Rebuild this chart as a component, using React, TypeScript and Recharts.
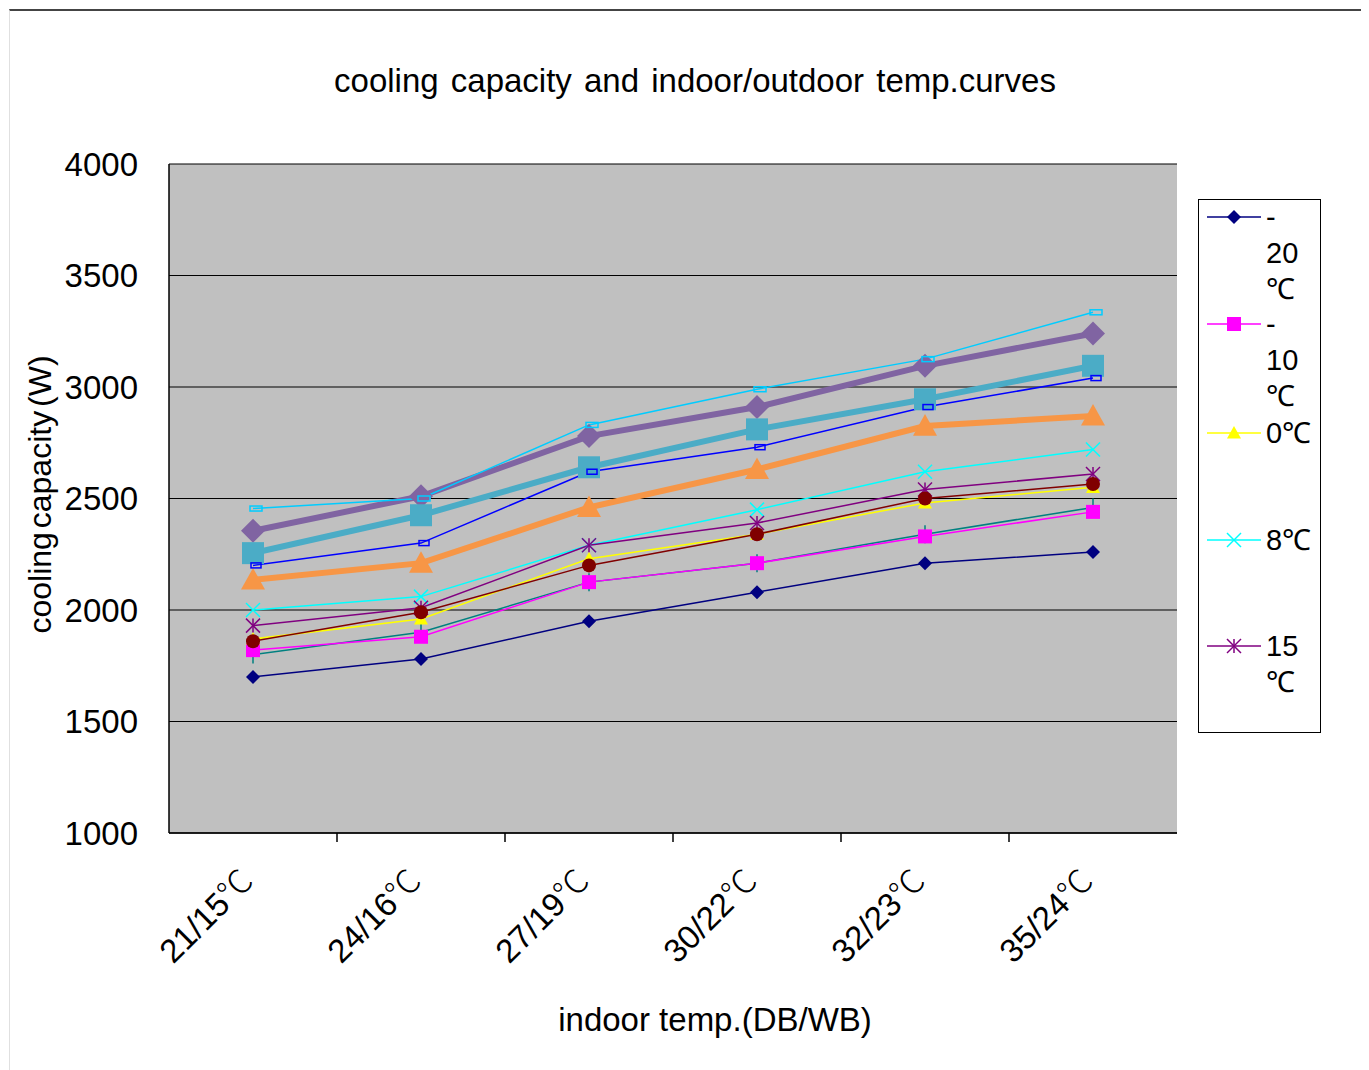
import { CartesianGrid, Label, Legend, Line, LineChart, XAxis, YAxis } from 'recharts'

const categories = ['21/15℃', '24/16℃', '27/19℃', '30/22℃', '32/23℃', '35/24℃']

const minus20 = [1700, 1780, 1950, 2080, 2210, 2260]
const minus10 = [1820, 1880, 2125, 2210, 2330, 2440]
const zero = [1870, 1960, 2230, 2340, 2480, 2550]
const plus8 = [2000, 2060, 2290, 2450, 2620, 2720]
const plus15 = [1930, 2010, 2290, 2390, 2540, 2610]
const darkRedSeries = [1860, 1990, 2200, 2340, 2500, 2565]
const tealSeries = [1800, 1900, 2125, 2210, 2340, 2460]
const blueSeries = [2200, 2300, 2620, 2730, 2910, 3040]
const skySeries = [2455, 2500, 2830, 2990, 3125, 3335]
const orangeSeries = [2135, 2210, 2460, 2630, 2825, 2870]
const steelSeries = [2255, 2425, 2640, 2810, 2945, 3095]
const violetSeries = [2355, 2510, 2780, 2910, 3095, 3240]

const yTicks = [1000, 1500, 2000, 2500, 3000, 3500, 4000]

const data = categories.map((name, i) => ({
  name,
  m20: minus20[i],
  m10: minus10[i],
  t0: zero[i],
  t8: plus8[i],
  t15: plus15[i],
  darkRed: darkRedSeries[i],
  teal: tealSeries[i],
  blue: blueSeries[i],
  sky: skySeries[i],
  orange: orangeSeries[i],
  steel: steelSeries[i],
  violet: violetSeries[i],
}))

type MarkerKind = 'diamond' | 'square' | 'triangle' | 'x' | 'star' | 'circle' | 'plus' | 'dash'

interface SeriesDef {
  key: string
  color: string
  width: number
  marker: MarkerKind
  size: number
  lines?: string[]
}

// drawn in this order: thick ones below, thin ones above
const series: SeriesDef[] = [
  { key: 'violet', color: '#8064a2', width: 6, marker: 'diamond', size: 12 },
  { key: 'steel', color: '#4bacc6', width: 6, marker: 'square', size: 11 },
  { key: 'orange', color: '#f79646', width: 6, marker: 'triangle', size: 12 },
  { key: 'teal', color: '#008080', width: 1.5, marker: 'plus', size: 7 },
  { key: 'm20', color: '#000080', width: 1.5, marker: 'diamond', size: 7, lines: ['-', '20', '℃'] },
  { key: 'm10', color: '#ff00ff', width: 1.5, marker: 'square', size: 7, lines: ['-', '10', '℃'] },
  { key: 't0', color: '#ffff00', width: 1.5, marker: 'triangle', size: 7, lines: ['0℃'] },
  { key: 't8', color: '#00ffff', width: 1.5, marker: 'x', size: 7, lines: ['8℃'] },
  { key: 't15', color: '#800080', width: 1.5, marker: 'star', size: 7, lines: ['15', '℃'] },
  { key: 'darkRed', color: '#800000', width: 1.5, marker: 'circle', size: 7 },
  { key: 'blue', color: '#0000ff', width: 1.5, marker: 'dash', size: 5 },
  { key: 'sky', color: '#00ccff', width: 1.5, marker: 'dash', size: 6 },
]

const legendOrder = ['m20', 'm10', 't0', 't8', 't15']

const FONT = '"Liberation Sans", Arial, sans-serif'
const CJK = '"Noto Sans CJK SC", sans-serif'

// split off the degree sign so it can use a CJK face
function splitDeg(t: string) {
  const i = t.indexOf('℃')
  return i < 0 ? [t, ''] : [t.slice(0, i), '℃']
}

function Marker({ kind, cx, cy, color, size }: { kind: MarkerKind; cx: number; cy: number; color: string; size: number }) {
  const s = size
  switch (kind) {
    case 'diamond':
      return <polygon points={`${cx},${cy - s} ${cx + s},${cy} ${cx},${cy + s} ${cx - s},${cy}`} fill={color} />
    case 'square':
      return <rect x={cx - s} y={cy - s} width={s * 2} height={s * 2} fill={color} />
    case 'triangle':
      return <polygon points={`${cx},${cy - s} ${cx + s},${cy + s * 0.8} ${cx - s},${cy + s * 0.8}`} fill={color} />
    case 'circle':
      return <circle cx={cx} cy={cy} r={s} fill={color} />
    case 'x':
      return (
        <g stroke={color} strokeWidth={1.5}>
          <line x1={cx - s} y1={cy - s} x2={cx + s} y2={cy + s} />
          <line x1={cx - s} y1={cy + s} x2={cx + s} y2={cy - s} />
        </g>
      )
    case 'star':
      return (
        <g stroke={color} strokeWidth={1.5}>
          <line x1={cx - s} y1={cy - s} x2={cx + s} y2={cy + s} />
          <line x1={cx - s} y1={cy + s} x2={cx + s} y2={cy - s} />
          <line x1={cx} y1={cy - s} x2={cx} y2={cy + s} />
        </g>
      )
    case 'plus':
      return (
        <g stroke={color} strokeWidth={1.5}>
          <line x1={cx} y1={cy - s - 2} x2={cx} y2={cy + s + 2} />
          <line x1={cx - s} y1={cy} x2={cx + s} y2={cy} />
        </g>
      )
    case 'dash':
      return <rect x={cx - s + 3} y={cy - 2.5} width={s * 2} height={5} fill="none" stroke={color} strokeWidth={1.5} />
  }
}

function XTick(props: any) {
  const { x, y, payload, index } = props
  const [num, deg] = splitDeg(payload.value)
  return (
    <g>
      {index < categories.length - 1 && <line x1={x + 84} y1={y} x2={x + 84} y2={y + 9} stroke="#000" strokeWidth={1.5} />}
      <g transform={`translate(${x + 2},${y + 50})`}>
        <text transform="rotate(-45)" textAnchor="end" fontSize={33} fontFamily={FONT} fill="#000">
          {num}
          <tspan fontFamily={CJK} fontWeight={300}>{deg}</tspan>
        </text>
      </g>
    </g>
  )
}

function LegendBox() {
  const entries = legendOrder.map((k) => series.find((s) => s.key === k)!)
  const rowTops = [17, 124, 233, 340, 446]
  const lh = 36
  return (
    <div style={{ position: 'relative', width: 123, height: 534, border: '1px solid #000', background: '#fff', boxSizing: 'border-box' }}>
      {entries.map((s, i) => (
        <div key={s.key} style={{ position: 'absolute', left: 0, top: rowTops[i] - 18 }}>
          <svg width={66} height={36} style={{ position: 'absolute', left: 8, top: 0 }}>
            <line x1={0} y1={18} x2={54} y2={18} stroke={s.color} strokeWidth={1.5} />
            <Marker kind={s.marker} cx={27} cy={18} color={s.color} size={s.size} />
          </svg>
          <div style={{ position: 'absolute', left: 67, top: 0, fontFamily: FONT, fontSize: 29, color: '#000', whiteSpace: 'nowrap' }}>
            {s.lines!.map((t, j) => (
              <div key={j} style={{ height: lh, lineHeight: `${lh}px` }}>
                {t}
              </div>
            ))}
          </div>
        </div>
      ))}
    </div>
  )
}

export default function App() {
  return (
    <div
      style={{
        position: 'relative',
        marginTop: 1,
        marginLeft: 1,
        width: 1355,
        height: 1070,
        borderTop: '2px solid #444',
        borderRight: '2px solid #333',
        borderLeft: '1px solid #e0e0e0',
        background: '#fff',
      }}
    >
      <div
        style={{
          position: 'absolute',
          left: 0,
          width: 1370,
          top: 53,
          textAlign: 'center',
          fontFamily: FONT,
          fontSize: 33,
          lineHeight: '33px',
          color: '#000',
          wordSpacing: 3,
        }}
      >
        cooling capacity and indoor/outdoor temp.curves
      </div>
      <LineChart width={1354} height={1060} data={data} margin={{ top: 153, right: 187, left: 79, bottom: 88 }}>
        <CartesianGrid vertical={false} stroke="#000" strokeWidth={1.2} fill="#c0c0c0" fillOpacity={1} />
        <XAxis
          dataKey="name"
          height={150}
          padding={{ left: 84, right: 84 }}
          axisLine={{ stroke: '#000', strokeWidth: 1.5 }}
          tickLine={false}
          tickSize={0}
          tickMargin={0}
          interval={0}
          tick={<XTick />}
        >
          <Label
            content={(p: any) => {
              const vb = p.viewBox
              return (
                <text x={vb.x + vb.width / 2 + 42} y={vb.y + vb.height + 48} textAnchor="middle" fontSize={33} fontFamily={FONT} fill="#000">
                  indoor temp.(DB/WB)
                </text>
              )
            }}
          />
        </XAxis>
        <YAxis
          width={80}
          domain={[1000, 4000]}
          ticks={yTicks}
          allowDataOverflow
          axisLine={{ stroke: '#000', strokeWidth: 1.5 }}
          tickLine={false}
          tickSize={0}
          tickMargin={31}
          tick={{ fontSize: 33, fontFamily: FONT, fill: '#000' }}
        >
          <Label
            content={(p: any) => {
              const vb = p.viewBox
              const cx = vb.x - 46
              const cy = vb.y + vb.height / 2 - 4
              return (
                <text x={cx} y={cy} transform={`rotate(-90 ${cx} ${cy})`} textAnchor="middle" dominantBaseline="middle" fontSize={32} fontFamily={FONT} fill="#000" wordSpacing={-5}>
                  cooling capacity (W)
                </text>
              )
            }}
          />
        </YAxis>
        <Legend
          layout="horizontal"
          verticalAlign="middle"
          align="center"
          wrapperStyle={{ left: 1188, top: 188, width: 123, height: 534 }}
          content={() => <LegendBox />}
        />
        {series.map((s) => (
          <Line
            key={s.key}
            dataKey={s.key}
            stroke={s.color}
            strokeWidth={s.width}
            isAnimationActive={false}
            legendType={s.lines ? 'line' : 'none'}
            activeDot={false}
            dot={(p: any) => <Marker key={`${s.key}-${p.index}`} kind={s.marker} cx={p.cx} cy={p.cy} color={s.color} size={s.size} />}
          />
        ))}
      </LineChart>
    </div>
  )
}
